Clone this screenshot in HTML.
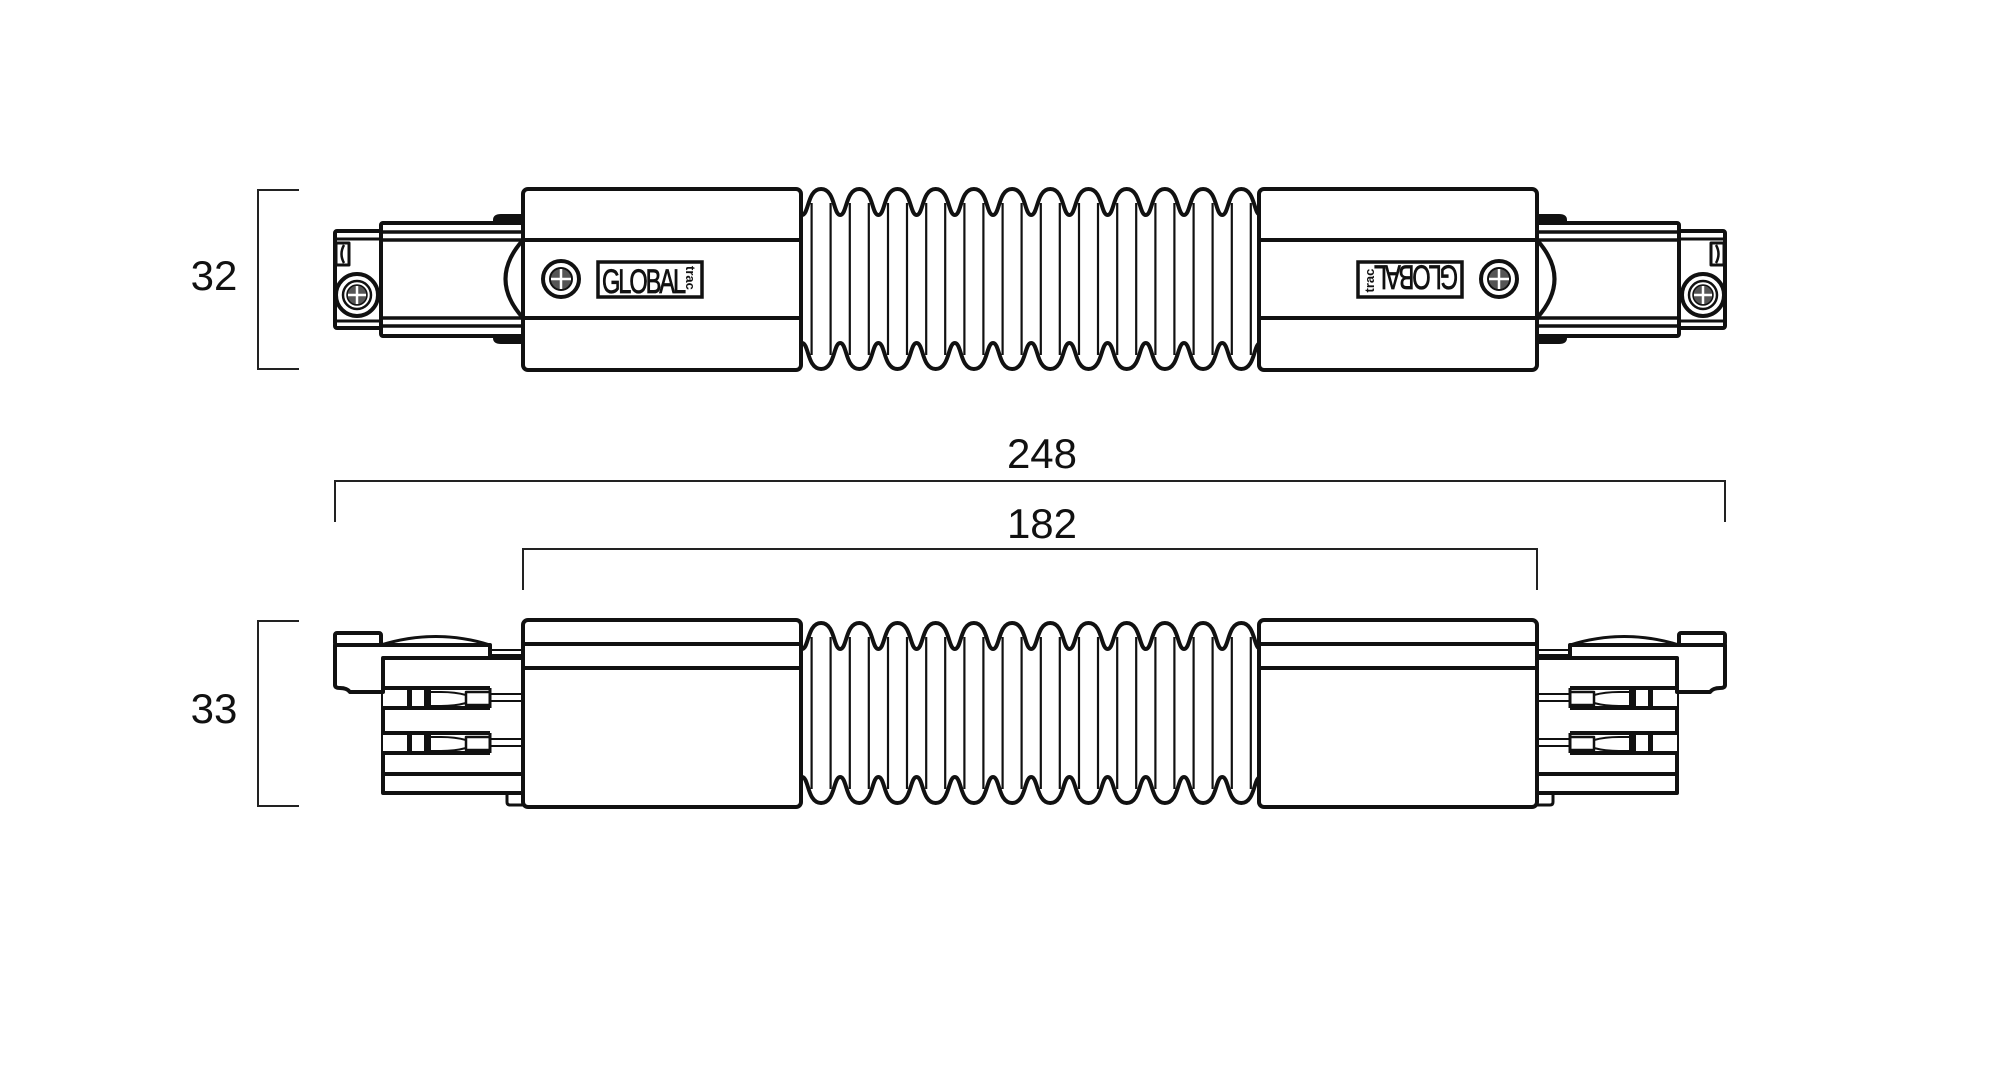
<!DOCTYPE html>
<html><head><meta charset="utf-8"><style>
html,body{margin:0;padding:0;background:#fff;}
svg{display:block;}
text{font-family:"Liberation Sans",sans-serif;fill:#111;}
.logo{stroke:#111;stroke-width:0.8;}
</style></head><body>
<svg width="2000" height="1072" viewBox="0 0 2000 1072" xmlns="http://www.w3.org/2000/svg">
<defs>
  <g id="fold" fill="none" stroke="#111" stroke-width="2.2">
    <line x1="-9.5" y1="203" x2="-9.5" y2="355"/>
    <line x1="9.5" y1="203" x2="9.5" y2="355"/>
  </g>
  <g id="bellows">
    <path fill="none" stroke="#111" stroke-width="4" d="M802,215 c7,0 5,-26 19.1,-26 c14.1,0 12.1,26 19.1,26 c7,0 5,-26 19.1,-26 c14.1,0 12.1,26 19.1,26 c7,0 5,-26 19.1,-26 c14.1,0 12.1,26 19.1,26 c7,0 5,-26 19.1,-26 c14.1,0 12.1,26 19.1,26 c7,0 5,-26 19.1,-26 c14.1,0 12.1,26 19.1,26 c7,0 5,-26 19.1,-26 c14.1,0 12.1,26 19.1,26 c7,0 5,-26 19.1,-26 c14.1,0 12.1,26 19.1,26 c7,0 5,-26 19.1,-26 c14.1,0 12.1,26 19.1,26 c7,0 5,-26 19.1,-26 c14.1,0 12.1,26 19.1,26 c7,0 5,-26 19.1,-26 c14.1,0 12.1,26 19.1,26 c7,0 5,-26 19.1,-26 c14.1,0 12.1,26 19.1,26 c7,0 5,-26 19.1,-26 c14.1,0 12.1,26 19.1,26"/>
    <path fill="none" stroke="#111" stroke-width="4" d="M802,343 c7,0 5,26 19.1,26 c14.1,0 12.1,-26 19.1,-26 c7,0 5,26 19.1,26 c14.1,0 12.1,-26 19.1,-26 c7,0 5,26 19.1,26 c14.1,0 12.1,-26 19.1,-26 c7,0 5,26 19.1,26 c14.1,0 12.1,-26 19.1,-26 c7,0 5,26 19.1,26 c14.1,0 12.1,-26 19.1,-26 c7,0 5,26 19.1,26 c14.1,0 12.1,-26 19.1,-26 c7,0 5,26 19.1,26 c14.1,0 12.1,-26 19.1,-26 c7,0 5,26 19.1,26 c14.1,0 12.1,-26 19.1,-26 c7,0 5,26 19.1,26 c14.1,0 12.1,-26 19.1,-26 c7,0 5,26 19.1,26 c14.1,0 12.1,-26 19.1,-26 c7,0 5,26 19.1,26 c14.1,0 12.1,-26 19.1,-26 c7,0 5,26 19.1,26 c14.1,0 12.1,-26 19.1,-26"/>
    <use href="#fold" x="821.1"/><use href="#fold" x="859.3"/><use href="#fold" x="897.5"/>
    <use href="#fold" x="935.7"/><use href="#fold" x="973.9"/><use href="#fold" x="1012.1"/>
    <use href="#fold" x="1050.3"/><use href="#fold" x="1088.5"/><use href="#fold" x="1126.7"/>
    <use href="#fold" x="1164.9"/><use href="#fold" x="1203.1"/><use href="#fold" x="1241.3"/>
  </g>
  <g id="screw">
    <circle r="18" fill="#fff" stroke="#111" stroke-width="4"/>
    <circle r="11" fill="#555" stroke="#111" stroke-width="2"/>
    <line x1="-10" y1="0" x2="10" y2="0" stroke="#fff" stroke-width="2.5"/>
    <line x1="0" y1="-10" x2="0" y2="10" stroke="#fff" stroke-width="2.5"/>
  </g>
  <g id="capscrew">
    <circle r="21" fill="#fff" stroke="#111" stroke-width="4"/>
    <circle r="14" fill="#fff" stroke="#111" stroke-width="2.5"/>
    <circle r="10" fill="#555" stroke="#111" stroke-width="1.5"/>
    <line x1="-9" y1="0" x2="9" y2="0" stroke="#fff" stroke-width="2.5"/>
    <line x1="0" y1="-9" x2="0" y2="9" stroke="#fff" stroke-width="2.5"/>
  </g>
  <g id="topLeft" fill="none" stroke="#111" stroke-width="4" stroke-linejoin="round">
    <path d="M493,223 v-3 q0,-6 8,-6 h22 v9 z" fill="#111" stroke="none"/>
    <path d="M493,335 v3 q0,6 8,6 h22 v-9 z" fill="#111" stroke="none"/>
    <rect x="335" y="231" width="46" height="97" rx="2" fill="#fff"/>
    <line x1="335" y1="321" x2="381" y2="321" stroke-width="3"/>
    <line x1="335" y1="239" x2="381" y2="239" stroke-width="3"/>
    <rect x="336" y="243" width="13" height="22" stroke-width="3"/>
    <path d="M344,245 q-5,9 0,18" stroke-width="2.5"/>
    <rect x="381" y="223" width="142" height="113" rx="2" fill="#fff"/>
    <line x1="381" y1="232" x2="523" y2="232" stroke-width="3.5"/>
    <line x1="381" y1="240" x2="523" y2="240" stroke-width="3.5"/>
    <line x1="381" y1="318" x2="523" y2="318" stroke-width="3.5"/>
    <line x1="381" y1="326" x2="523" y2="326" stroke-width="3.5"/>
    <use href="#capscrew" x="357" y="295"/>
  </g>
  <g id="housingTop" fill="none" stroke="#111" stroke-width="4">
    <path d="M523,240 Q488,279 523,318" fill="#fff"/>
    <rect x="523" y="189" width="278" height="181" rx="5" fill="#fff"/>
    <line x1="523" y1="240" x2="801" y2="240"/>
    <line x1="523" y1="318" x2="801" y2="318"/>
  </g>
  <g id="bottomLeft" fill="none" stroke="#111" stroke-width="4" stroke-linejoin="round">
    <line x1="490" y1="650" x2="523" y2="650" stroke-width="2"/>
    <line x1="490" y1="655" x2="523" y2="655" stroke-width="2"/>
    <rect x="383" y="658" width="140" height="135" fill="#fff"/>
    <line x1="383" y1="774" x2="523" y2="774"/>
    <g id="pin">
      <rect x="383" y="688" width="107" height="20" fill="#fff" stroke="none"/>
      <line x1="383" y1="688" x2="490" y2="688"/>
      <line x1="383" y1="708" x2="490" y2="708"/>
      <rect x="407" y="688" width="5" height="20" fill="#111" stroke="none"/>
      <rect x="424" y="688" width="7" height="20" fill="#111" stroke="none"/>
      <path d="M431,692 h10 q14,0 25,3 v8 q-11,3 -25,3 h-10" stroke-width="2"/>
      <rect x="466" y="692" width="24" height="13" stroke-width="2.5"/>
      <line x1="490" y1="688" x2="490" y2="708" stroke-width="3"/>
      <line x1="490" y1="694" x2="523" y2="694" stroke-width="2"/>
      <line x1="490" y1="701" x2="523" y2="701" stroke-width="2"/>
    </g>
    <use href="#pin" y="45"/>
    <path d="M507,793 v9 q0,3 3,3 h13" stroke-width="3"/>
    <path d="M381,645 Q436,628 490,645" stroke-width="3"/>
    <path d="M335,645 v40 q0,3 5,3 q7,0 10,4 h33 v-34 h107 v-13 z" fill="#fff"/>
    <rect x="335" y="633" width="46" height="12" rx="2" fill="#fff"/>
  </g>
  <g id="housingBottom" fill="none" stroke="#111" stroke-width="4">
    <rect x="523" y="620" width="278" height="187" rx="5" fill="#fff"/>
    <line x1="523" y1="644" x2="801" y2="644"/>
    <line x1="523" y1="668" x2="801" y2="668"/>
  </g>
</defs>

<use href="#bellows"/>
<use href="#topLeft"/>
<use href="#housingTop"/>
<use href="#screw" x="561" y="279"/>
<rect x="598" y="262" width="104" height="35" fill="#fff" stroke="#111" stroke-width="3.5"/>
<text class="logo" x="602" y="293" font-size="34" letter-spacing="-3" textLength="82" lengthAdjust="spacingAndGlyphs">GLOBAL</text>
<text transform="translate(686,266) rotate(90)" font-size="13" font-weight="bold">trac</text>

<g transform="translate(2060,0) scale(-1,1)">
  <use href="#topLeft"/>
  <use href="#housingTop"/>
  <use href="#screw" x="561" y="279"/>
  <rect x="598" y="262" width="104" height="35" fill="#fff" stroke="#111" stroke-width="3.5"/>
</g>
<g transform="translate(1410,279.5) rotate(180)">
  <text class="logo" x="-48" y="14" font-size="34" letter-spacing="-3" textLength="82" lengthAdjust="spacingAndGlyphs">GLOBAL</text>
  <text transform="translate(36,-13) rotate(90)" font-size="13" font-weight="bold">trac</text>
</g>

<g transform="translate(0,434)"><use href="#bellows"/></g>
<use href="#bottomLeft"/>
<use href="#housingBottom"/>
<g transform="translate(2060,0) scale(-1,1)">
  <use href="#bottomLeft"/>
  <use href="#housingBottom"/>
</g>

<g fill="none" stroke="#222" stroke-width="2">
  <path d="M299,190 H258 V369 H299"/>
  <path d="M299,621 H258 V806 H299"/>
  <path d="M335,522 V481 H1725 V522"/>
  <path d="M523,590 V549 H1537 V590"/>
</g>
<text x="214" y="290" font-size="42" text-anchor="middle">32</text>
<text x="214" y="723" font-size="42" text-anchor="middle">33</text>
<text x="1042" y="468" font-size="42" text-anchor="middle">248</text>
<text x="1042" y="538" font-size="42" text-anchor="middle">182</text>
</svg>
</body></html>
